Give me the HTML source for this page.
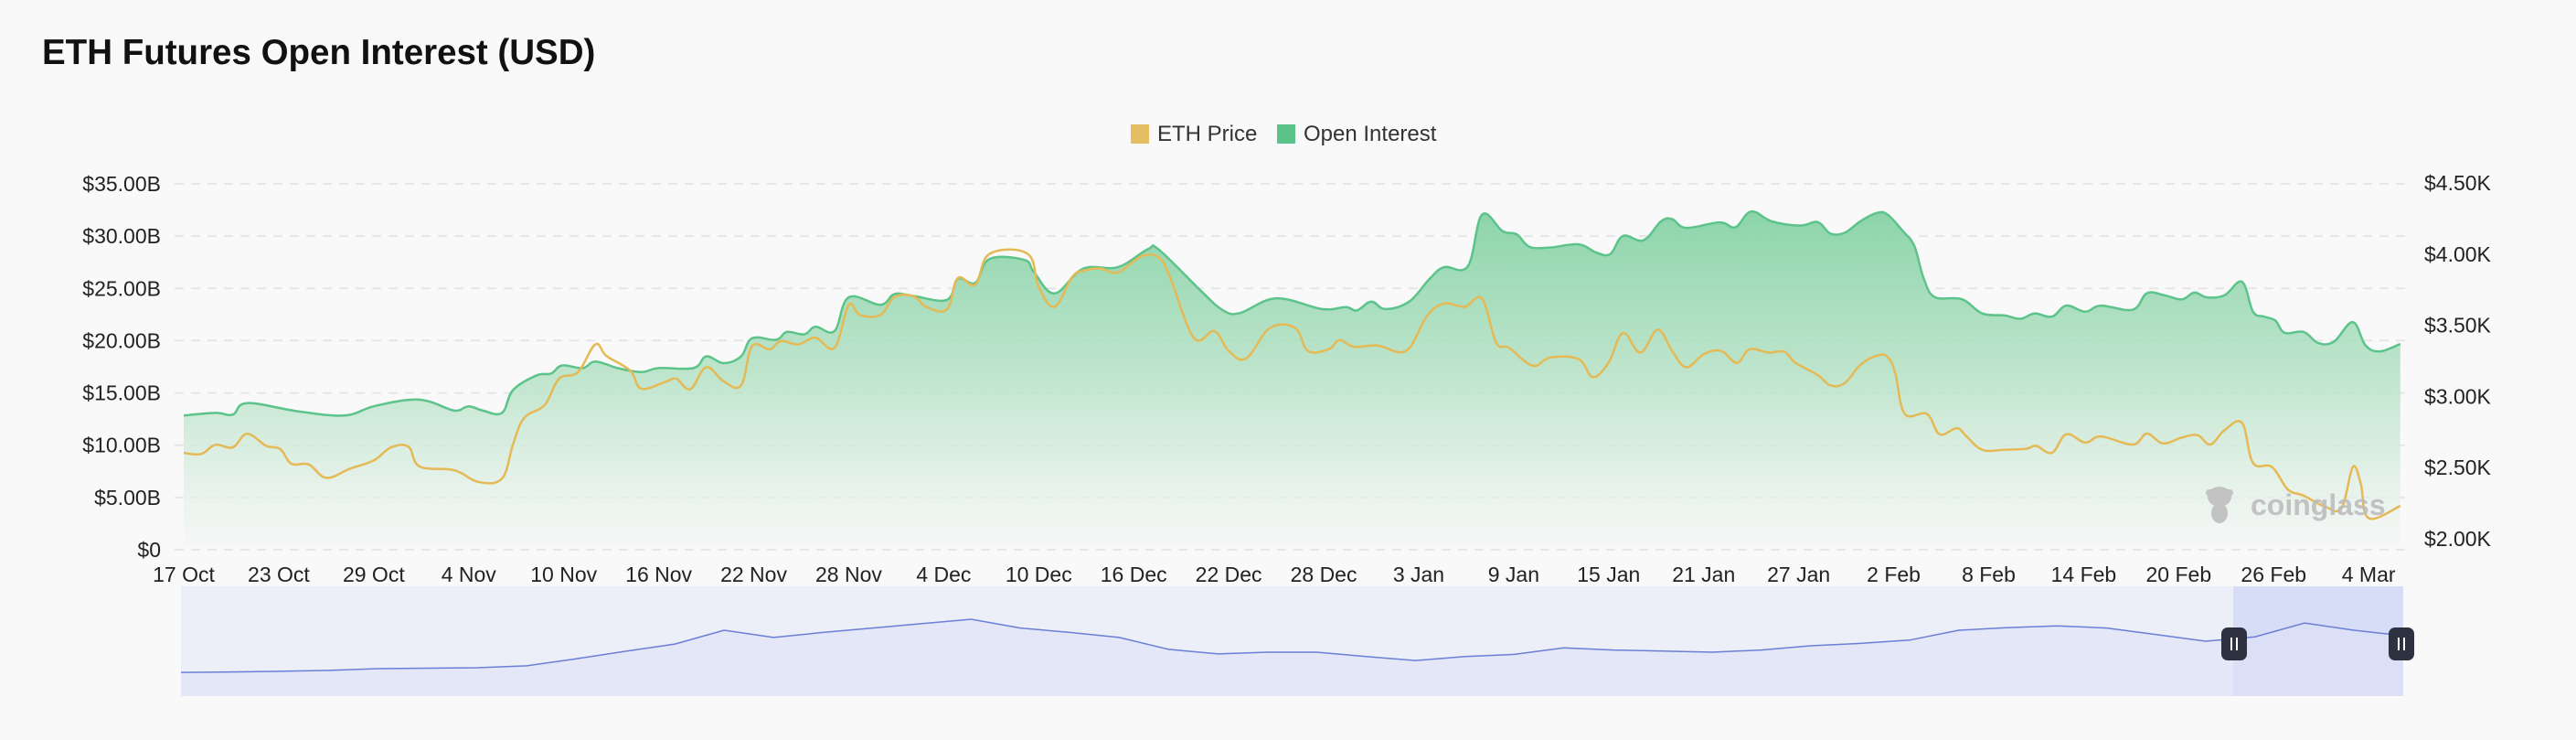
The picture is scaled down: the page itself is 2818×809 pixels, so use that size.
<!DOCTYPE html>
<html><head><meta charset="utf-8"><style>
html,body{margin:0;padding:0;background:#f9f9f9;}
body{width:2818px;height:804px;overflow:hidden;font-family:"Liberation Sans",sans-serif;}
svg text{font-family:"Liberation Sans",sans-serif;}
</style></head><body>
<svg id="chart" width="2818" height="804" viewBox="0 0 2818 804" xmlns="http://www.w3.org/2000/svg">
<defs>
<linearGradient id="oiFill" x1="0" y1="0" x2="0" y2="1">
<stop offset="0" stop-color="#86d2a6" stop-opacity="0.95"/>
<stop offset="0.5" stop-color="#b6e2c6" stop-opacity="0.85"/>
<stop offset="1" stop-color="#f3f6f4" stop-opacity="0.6"/>
</linearGradient>
</defs>
<text x="46" y="70" font-size="38.5" font-weight="bold" fill="#111">ETH Futures Open Interest (USD)</text>
<g>
<g><rect x="1237" y="136" width="20" height="21" fill="#e5bd62"/><text x="1266" y="154" font-size="24" fill="#333">ETH Price</text></g>
<g><rect x="1397" y="136" width="20" height="21" fill="#5cc48a"/><text x="1426" y="154" font-size="24" fill="#333">Open Interest</text></g>
</g>
<g id="grid"></g>
<g id="yLeft"></g><g id="yRight"></g><g id="xAxis"></g>
<g id="series"></g>
<g fill="#bdbdbd" opacity="0.9">
<ellipse cx="2428" cy="543" rx="13" ry="11"/><ellipse cx="2428" cy="561" rx="9" ry="11"/>
<rect x="2413" y="535" width="30" height="7" rx="3.5"/>
<text x="2462" y="563" font-size="32" font-weight="bold">coinglass</text>
</g>
<g id="nav"></g>
</svg>
<script>
const ticksLeft=[0,5,10,15,20,25,30,35];
const ticksRight=[2000,2500,3000,3500,4000,4500];
const xTickLabels=["17 Oct","23 Oct","29 Oct","4 Nov","10 Nov","16 Nov","22 Nov","28 Nov","4 Dec","10 Dec","16 Dec","22 Dec","28 Dec","3 Jan","9 Jan","15 Jan","21 Jan","27 Jan","2 Feb","8 Feb","14 Feb","20 Feb","26 Feb","4 Mar"];
const oiDays=[0,2.0,3.1,4.0,7.2,10.1,12.0,14.2,15.5,17.1,18.0,18.9,20.1,20.8,22.3,23.2,23.9,25.2,26.0,27.4,28.9,30.0,32.2,33.0,34.1,35.2,35.9,37.4,38.1,39.2,39.9,41.1,42.0,44.0,44.9,46.1,48.2,48.9,50.0,50.9,53.1,53.7,55.0,56.8,59.0,60.9,61.6,64.2,65.6,66.7,69.0,71.9,73.4,74.1,75.0,75.9,77.4,78.7,79.6,81.1,82.0,83.3,84.2,85.0,86.3,88.1,89.2,90.1,90.9,92.2,93.3,94.0,94.9,97.0,98.0,99.0,100.3,102.1,103.2,104.0,104.9,105.9,106.9,107.6,108.6,109.3,109.9,110.6,112.3,113.6,115.0,116.0,116.9,118.0,118.9,120.1,121.1,123.1,124.0,125.1,126.2,127.0,127.8,128.9,130.0,130.7,131.4,132.1,132.7,133.9,134.8,135.8,137.0,137.8,138.7,140.0];
const oiValues=[12.84,13.09,12.93,14.03,13.25,12.84,13.72,14.34,14.18,13.31,13.72,13.31,13.09,15.28,16.69,16.85,17.63,17.38,18.01,17.38,17.0,17.38,17.38,18.5,17.85,18.5,20.23,20.08,20.83,20.61,21.33,20.92,24.15,23.43,24.46,24.27,23.9,25.93,25.53,27.82,27.72,26.56,24.52,26.88,27.03,28.75,28.69,24.83,22.94,22.64,24.05,23.02,23.21,22.89,23.74,23.02,23.74,25.93,27.03,27.12,32.04,30.48,30.17,28.97,28.91,29.22,28.44,28.28,30.01,29.6,31.41,31.63,30.79,31.32,30.85,32.36,31.41,31.01,31.34,30.25,30.32,31.42,32.2,32.08,30.44,29.07,25.94,24.17,23.97,22.6,22.41,22.09,22.6,22.3,23.35,22.77,23.35,22.96,24.54,24.34,23.95,24.6,24.14,24.34,25.63,22.77,22.3,21.93,20.75,20.83,19.78,19.9,21.77,19.56,18.97,19.68];
const priceDays=[0,1.1,2.0,3.1,4.0,5.2,6.1,6.8,7.9,9.0,10.5,12.0,13.1,14.2,14.9,17.1,18.6,20.1,20.8,21.5,22.8,23.7,24.9,26.0,26.7,28.2,28.9,30.4,31.1,32.0,33.0,34.1,35.2,35.9,37.0,37.7,38.8,39.9,41.1,42.0,42.7,44.0,44.9,46.1,46.9,48.2,48.9,50.0,50.9,53.3,54.0,55.0,56.1,56.8,57.9,59.0,60.5,61.6,62.3,63.8,65.1,66.0,67.1,68.6,70.2,71.0,72.3,73.0,73.9,75.4,77.2,78.5,79.6,80.9,82.0,82.9,83.7,85.2,86.3,88.1,89.0,90.0,90.9,92.0,93.1,94.0,94.9,96.0,97.1,98.1,98.9,100.1,101.1,101.8,103.2,104.0,104.9,105.9,106.9,107.6,108.1,108.7,110.1,110.9,112.0,112.6,113.6,115.0,116.4,117.0,118.0,118.9,120.1,121.1,123.1,124.0,125.0,126.2,127.2,128.0,128.9,130.0,130.7,131.9,132.9,133.9,135.3,136.3,137.0,137.5,138.0,140.0];
const priceValues=[2602,2596,2660,2642,2738,2653,2630,2527,2522,2428,2492,2550,2642,2646,2508,2481,2400,2423,2665,2849,2940,3124,3171,3366,3285,3181,3055,3101,3124,3051,3205,3106,3078,3354,3331,3389,3366,3412,3342,3642,3573,3573,3699,3703,3630,3611,3832,3786,4002,4002,3768,3630,3837,3883,3899,3871,3986,3975,3837,3412,3458,3320,3267,3481,3481,3320,3331,3396,3349,3358,3320,3561,3653,3630,3687,3377,3342,3216,3273,3262,3136,3239,3446,3308,3469,3320,3205,3297,3320,3236,3331,3308,3314,3236,3151,3078,3093,3222,3285,3279,3165,2877,2877,2734,2777,2719,2625,2625,2633,2653,2604,2734,2676,2719,2662,2739,2670,2711,2728,2662,2763,2814,2533,2504,2346,2303,2223,2217,2504,2389,2145,2231];
const navValues=[10.8,11.0,11.3,11.7,12.5,12.7,12.9,13.8,17.0,20.4,23.7,30,26.7,29,31,33,35,31,29,26.7,21.3,19.2,20,20,18,16.2,18,19,22,21,20.5,20,21,22.9,24,25.5,30,31.2,32,31,28,25,27,33.3,30,27.5];

const NS="http://www.w3.org/2000/svg";
const X0=201,PXD=17.32,YB=601,YT=201,RB=589,RT=200;
const xS=d=>X0+d*PXD;
const yL=v=>YB-(v-0)/(35)*(YB-YT);
const yR=p=>RB-(p-2000)/2500*(RB-RT);
function mk(tag,attrs,parent){const e=document.createElementNS(NS,tag);for(const k in attrs)e.setAttribute(k,attrs[k]);parent.appendChild(e);return e;}
function smooth(pts){
  let d="M"+pts[0][0].toFixed(1)+","+pts[0][1].toFixed(1);
  for(let i=0;i<pts.length-1;i++){
    const p0=pts[Math.max(0,i-1)],p1=pts[i],p2=pts[i+1],p3=pts[Math.min(pts.length-1,i+2)];
    const t=0.18;
    const c1=[p1[0]+(p2[0]-p0[0])*t,p1[1]+(p2[1]-p0[1])*t];
    const c2=[p2[0]-(p3[0]-p1[0])*t,p2[1]-(p3[1]-p1[1])*t];
    d+=" C"+c1[0].toFixed(1)+","+c1[1].toFixed(1)+" "+c2[0].toFixed(1)+","+c2[1].toFixed(1)+" "+p2[0].toFixed(1)+","+p2[1].toFixed(1);
  }
  return d;
}
const grid=document.getElementById('grid');
ticksLeft.forEach(v=>{
  const l=mk('line',{x1:X0-10,x2:2632,y1:yL(v),y2:yL(v),stroke:'#e6e6e6','stroke-width':2,'stroke-dasharray':'10 8'},grid);
  
  
  const t=mk('text',{x:176,y:yL(v)+8,'text-anchor':'end','font-size':23,fill:'#222'},document.getElementById('yLeft'));
  t.textContent=v===0?'$0':'$'+v.toFixed(2)+'B';
  
  
});
ticksRight.forEach(p=>{
  const t=mk('text',{x:2652,y:yR(p)+8,'font-size':23,fill:'#222'},document.getElementById('yRight'));
  t.textContent='$'+(p/1000).toFixed(2)+'K';
  
  
});
xTickLabels.forEach((s,i)=>{
  const t=mk('text',{x:xS(i*6),y:636,'text-anchor':'middle','font-size':23,fill:'#222'},document.getElementById('xAxis'));
  t.textContent=s;
  
  
});
const ser=document.getElementById('series');
const oiPts=oiDays.map((d,i)=>[xS(d),yL(oiValues[i])]);
const oiPath=smooth(oiPts);
const area=mk('path',{d:oiPath+" L"+oiPts[oiPts.length-1][0]+","+(YB-4)+" L"+oiPts[0][0]+","+(YB-4)+" Z",fill:'url(#oiFill)'},ser);


const oiLine=mk('path',{d:oiPath,fill:'none',stroke:'#5cc48a','stroke-width':2.5},ser);


const prPts=priceDays.map((d,i)=>[xS(d),yR(priceValues[i])]);
const prLine=mk('path',{d:smooth(prPts),fill:'none',stroke:'#e5b955','stroke-width':2.5},ser);



// navigator
const nav=document.getElementById('nav');
const NX0=198,NX1=2629,NT=641,NB=761;
const nx=i=>NX0+i*(NX1-NX0)/(navValues.length-1);
const ny=v=>NB-v/50*(NB-NT);
const bg=mk('rect',{x:NX0,y:NT,width:NX1-NX0,height:NB-NT,fill:'#eceef8'},nav);


const sel=mk('rect',{x:2443,y:NT,width:NX1-2443,height:NB-NT,fill:'#d7dcf7'},nav);


const nPts=navValues.map((v,i)=>[nx(i),ny(v)]);
let nd="M"+nPts.map(p=>p[0].toFixed(1)+","+p[1].toFixed(1)).join(" L");
const nArea=mk('path',{d:nd+" L"+NX1+","+NB+" L"+NX0+","+NB+" Z",fill:'#dfe3f6',opacity:0.6},nav);


const nLine=mk('path',{d:nd,fill:'none',stroke:'#6b7fd6','stroke-width':1.5},nav);


[2444,2627].forEach((hx,k)=>{
  const g=mk('g',{},nav);
  
  
  mk('rect',{x:hx-14,y:686,width:28,height:36,rx:7,fill:'#2e3140'},g);
  mk('rect',{x:hx-4,y:697,width:2,height:14,fill:'#fff'},g);
  mk('rect',{x:hx+2,y:697,width:2,height:14,fill:'#fff'},g);
});
</script>
</body></html>
